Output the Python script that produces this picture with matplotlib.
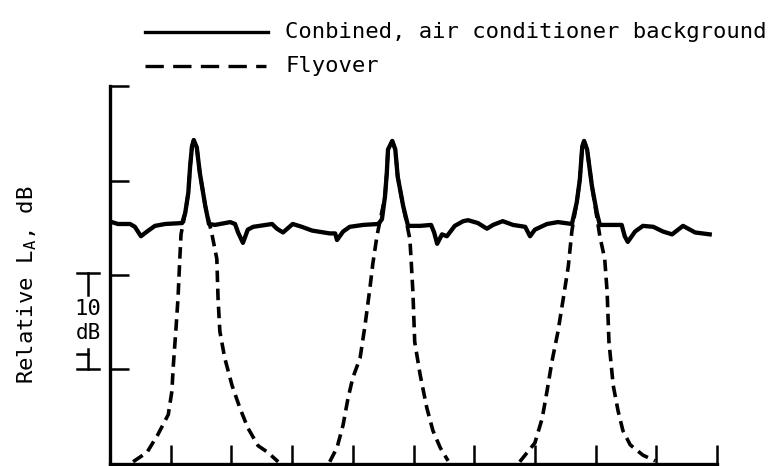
import matplotlib
matplotlib.use("Agg")
import matplotlib.pyplot as plt
from matplotlib.lines import Line2D

# combined level (air conditioner background + flyovers), relative dB vs time units
combined_t = [0.03, 0.13, 0.33, 0.41, 0.51, 0.61, 0.74, 0.91, 1.19, 1.24, 1.29, 1.32,
              1.35, 1.38, 1.43, 1.48, 1.57, 1.63, 1.73, 1.98, 2.06, 2.11, 2.19, 2.27,
              2.36, 2.67, 2.75, 2.85, 3.01, 3.16, 3.33, 3.62, 3.71, 3.74, 3.84, 3.95,
              4.17, 4.42, 4.48, 4.53, 4.56, 4.58, 4.65, 4.70, 4.74, 4.83, 4.91, 5.11,
              5.29, 5.34, 5.39, 5.47, 5.55, 5.68, 5.82, 5.90, 6.06, 6.21, 6.31, 6.47,
              6.64, 6.84, 6.92, 7.00, 7.20, 7.38, 7.61, 7.69, 7.74, 7.78, 7.81, 7.86,
              7.94, 8.02, 8.07, 8.24, 8.43, 8.48, 8.53, 8.65, 8.78, 8.95, 9.11, 9.26,
              9.44, 9.64, 9.88]
combined_db = [25.6, 25.4, 25.4, 25.1, 24.1, 24.6, 25.2, 25.4, 25.5, 26.6, 28.7, 31.5,
               33.6, 34.3, 33.5, 30.8, 27.3, 25.4, 25.3, 25.6, 25.4, 24.5, 23.4, 24.8,
               25.1, 25.4, 24.9, 24.5, 25.4, 25.1, 24.7, 24.4, 24.4, 23.7, 24.6, 25.1,
               25.3, 25.4, 25.9, 28.3, 30.8, 33.3, 34.2, 33.3, 30.4, 27.3, 25.2, 25.2,
               25.3, 24.5, 23.3, 24.3, 24.1, 25.2, 25.7, 25.8, 25.5, 24.9, 25.3, 25.7,
               25.3, 25.1, 24.1, 24.8, 25.4, 25.6, 25.4, 27.7, 30.1, 33.6, 34.2, 33.3,
               29.4, 26.6, 25.3, 25.3, 25.3, 24.1, 23.5, 24.6, 25.2, 25.1, 24.6, 24.3,
               25.2, 24.5, 24.3]

# flyover events alone
fly1_t = [0.38, 0.61, 0.79, 0.96, 1.02, 1.04, 1.09, 1.12, 1.15, 1.17, 1.24, 1.29,
          1.32, 1.35, 1.38, 1.43, 1.48, 1.57, 1.68, 1.76, 1.78, 1.81, 1.89, 2.01,
          2.14, 2.27, 2.44, 2.60, 2.77]
fly1_db = [0.2, 1.2, 3.1, 5.2, 7.7, 10.1, 14.6, 17.5, 21.7, 24.3, 26.6, 28.7,
           31.5, 33.6, 34.3, 33.5, 30.8, 27.3, 24.3, 21.7, 17.5, 14.0, 11.2, 8.3,
           5.9, 3.8, 1.9, 1.2, 0.2]
fly2_t = [3.62, 3.74, 3.84, 3.92, 4.00, 4.12, 4.20, 4.28, 4.33, 4.40, 4.53, 4.56,
          4.58, 4.65, 4.70, 4.74, 4.83, 4.94, 4.96, 4.99, 5.02, 5.11, 5.22, 5.32,
          5.44, 5.57]
fly2_db = [0.2, 1.7, 4.1, 6.9, 9.1, 11.2, 14.6, 18.5, 21.2, 24.2, 28.3, 30.8,
           33.3, 34.2, 33.3, 30.4, 27.3, 23.8, 21.7, 18.2, 12.9, 9.4, 5.9, 3.5,
           1.7, 0.3]
fly3_t = [6.75, 7.00, 7.12, 7.20, 7.28, 7.38, 7.46, 7.55, 7.61, 7.69, 7.74, 7.78,
          7.81, 7.86, 7.94, 8.07, 8.15, 8.19, 8.22, 8.29, 8.37, 8.45, 8.57, 8.78,
          8.98]
fly3_db = [0.2, 2.2, 4.8, 7.7, 10.8, 14.0, 17.2, 20.9, 24.7, 27.7, 30.1, 33.6,
           34.2, 33.3, 29.4, 24.1, 21.7, 18.2, 12.9, 8.3, 5.6, 3.5, 2.0, 0.9,
           0.3]

x_ticks = [1, 2, 3, 4, 5, 6, 7, 8, 9, 10]
y_ticks = [10, 20, 30, 40]

legend_labels = ["Conbined, air conditioner background", "Flyover"]
y_label = "Relative L$_\\mathregular{A}$, dB"

mono = "DejaVu Sans Mono"

fig = plt.figure(figsize=(7.76, 4.66), dpi=100)
ax = fig.add_axes([110 / 776, 0.005, 607 / 776, 0.81])

dash = (3.2, 1.8)
for t, db in [(fly1_t, fly1_db), (fly2_t, fly2_db), (fly3_t, fly3_db)]:
    ax.plot(t, db, color="black", lw=2.6, ls=(0, dash), zorder=2)
ax.plot(combined_t, combined_db, color="black", lw=3.1, solid_joinstyle="round", zorder=3)

ax.set_xlim(0, 10)
ax.set_ylim(0, 40)
ax.set_xticks(x_ticks)
ax.set_yticks(y_ticks)
ax.set_xticklabels([])
ax.set_yticklabels([])
ax.tick_params(direction="in", length=14, width=1.8, color="black")
for side in ["top", "right"]:
    ax.spines[side].set_visible(False)
for side in ["left", "bottom"]:
    ax.spines[side].set_linewidth(2.4)

# 10 dB scale bar left of the axis
tr = ax.get_yaxis_transform()
bx = -0.036
ax.plot([bx, bx], [20.2, 17.9], color="black", lw=1.8, transform=tr, clip_on=False)
ax.plot([bx, bx], [12.1, 10.0], color="black", lw=1.8, transform=tr, clip_on=False)
ax.plot([bx - 0.018, bx + 0.018], [20.2, 20.2], color="black", lw=1.8, transform=tr, clip_on=False)
ax.plot([bx - 0.018, bx + 0.018], [10.0, 10.0], color="black", lw=1.8, transform=tr, clip_on=False)
ax.plot([bx - 0.018, bx], [11.6, 11.6], color="black", lw=1.8, transform=tr, clip_on=False)
ax.text(bx, 16.4, "10", transform=tr, ha="center", va="center", fontsize=16, family=mono)
ax.text(bx, 13.8, "dB", transform=tr, ha="center", va="center", fontsize=15, family=mono)

fig.text(27 / 776, 1 - 285 / 466, y_label, rotation=90, ha="center", va="center",
         fontsize=16, family=mono)

# legend drawn by hand at the top
fig.add_artist(Line2D([145 / 776, 268 / 776], [0.931, 0.931], color="black", lw=2.4))
fig.add_artist(Line2D([145 / 776, 266 / 776], [0.858, 0.858], color="black", lw=2.4,
                      ls=(0, (5.5, 2.8))))
fig.text(285 / 776, 0.931, legend_labels[0], ha="left", va="center", fontsize=16, family=mono)
fig.text(285 / 776, 0.858, legend_labels[1], ha="left", va="center", fontsize=16, family=mono)

fig.savefig("out.png", dpi=100)
